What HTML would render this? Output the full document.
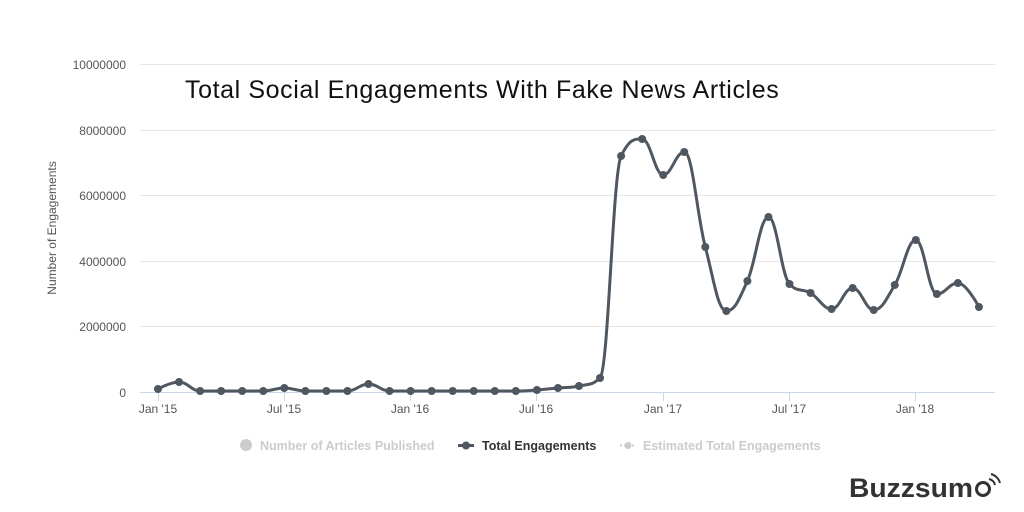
<!DOCTYPE html>
<html><head><meta charset="utf-8"><style>
body{margin:0;background:#fff;width:1024px;height:512px;overflow:hidden}
svg{display:block}
text{font-family:"Liberation Sans",sans-serif}
</style></head><body>
<svg id="s" width="1024" height="512" xmlns="http://www.w3.org/2000/svg">
<g stroke="#e6e6e6" stroke-width="1">
<line x1="140" x2="995" y1="64.5" y2="64.5"/>
<line x1="140" x2="995" y1="130.5" y2="130.5"/>
<line x1="140" x2="995" y1="195.5" y2="195.5"/>
<line x1="140" x2="995" y1="261.5" y2="261.5"/>
<line x1="140" x2="995" y1="326.5" y2="326.5"/>
</g>
<line x1="140" x2="995" y1="392.5" y2="392.5" stroke="#ccd6eb"/>
<g stroke="#ccd6eb"><line x1="158.5" x2="158.5" y1="392" y2="401"/><line x1="284.5" x2="284.5" y1="392" y2="401"/><line x1="410.5" x2="410.5" y1="392" y2="401"/><line x1="536.5" x2="536.5" y1="392" y2="401"/><line x1="663.5" x2="663.5" y1="392" y2="401"/><line x1="789.5" x2="789.5" y1="392" y2="401"/><line x1="915.5" x2="915.5" y1="392" y2="401"/></g>
<g font-size="12" fill="#555" text-anchor="end">
<text x="126" y="69">10000000</text><text x="126" y="135">8000000</text><text x="126" y="200">6000000</text><text x="126" y="266">4000000</text><text x="126" y="331">2000000</text><text x="126" y="397">0</text>
</g>
<g font-size="12" fill="#555" text-anchor="middle">
<text x="158" y="413">Jan '15</text><text x="284" y="413">Jul '15</text><text x="410" y="413">Jan '16</text><text x="536" y="413">Jul '16</text><text x="663" y="413">Jan '17</text><text x="789" y="413">Jul '17</text><text x="915" y="413">Jan '18</text>
</g>
<text transform="translate(56,228) rotate(-90)" font-size="12" fill="#555" text-anchor="middle">Number of Engagements</text>
<text x="185" y="98" font-size="25" letter-spacing="0.6" fill="#111">Total Social Engagements With Fake News Articles</text>
<path id="p" fill="none" stroke="#4f5760" stroke-width="3"/>
<g id="d" fill="#4f5760"></g>
<circle cx="246" cy="445" r="6" fill="#ccc"/>
<text x="260" y="450" font-size="12.5" font-weight="bold" fill="#ccc">Number of Articles Published</text>
<line x1="458" x2="474" y1="445.5" y2="445.5" stroke="#4f5760" stroke-width="3"/><circle cx="466" cy="445.5" r="4" fill="#4f5760"/>
<text x="482" y="450" font-size="12.5" font-weight="bold" fill="#333">Total Engagements</text>
<line x1="620" x2="636" y1="445.5" y2="445.5" stroke="#ccc" stroke-width="2" stroke-dasharray="2,2"/><circle cx="628" cy="445.5" r="3.5" fill="#ccc"/>
<text x="643" y="450" font-size="12.5" font-weight="bold" fill="#ccc">Estimated Total Engagements</text>
<text x="849" y="497" font-size="27" font-weight="bold" fill="#333" textLength="124" lengthAdjust="spacingAndGlyphs">Buzzsum</text>
<circle cx="983" cy="489" r="6.5" fill="none" stroke="#333" stroke-width="3"/>
<path d="M989 479 a8 8 0 0 1 6 6 M991 474 a13 13 0 0 1 9 9" fill="none" stroke="#333" stroke-width="2"/>
</svg>
<script>
var ys=[389,382,391,391,391,391,388,391,391,391,384,391,391,391,391,391,391,391,390,388,386,378,156,139,175,152,247,311,281,217,284,293,309,288,310,285,240,294,283,307];
var pts=ys.map(function(y,i){return [158+i*21.05,y]});
var n=pts.length,L=[],R=[],s=1.5;
for(var i=0;i<n;i++){
 var x=pts[i][0],y=pts[i][1];
 if(i==0||i==n-1){L[i]=[x,y];R[i]=[x,y];continue;}
 var px=pts[i-1][0],py=pts[i-1][1],nx=pts[i+1][0],ny=pts[i+1][1];
 var lx=(s*x+px)/(s+1),ly=(s*y+py)/(s+1),rx=(s*x+nx)/(s+1),ry=(s*y+ny)/(s+1);
 var c=((ry-ly)*(rx-x))/(rx-lx)+y-ry;ly+=c;ry+=c;
 if(ly>py&&ly>y){ly=Math.max(py,y);ry=2*y-ly;}else if(ly<py&&ly<y){ly=Math.min(py,y);ry=2*y-ly;}
 if(ry>ny&&ry>y){ry=Math.max(ny,y);ly=2*y-ry;}else if(ry<ny&&ry<y){ry=Math.min(ny,y);ly=2*y-ry;}
 L[i]=[lx,ly];R[i]=[rx,ry];
}
var d="M"+pts[0][0]+" "+pts[0][1];
for(var i=0;i<n-1;i++){
 d+=" C"+R[i][0].toFixed(1)+" "+R[i][1].toFixed(1)+" "+L[i+1][0].toFixed(1)+" "+L[i+1][1].toFixed(1)+" "+pts[i+1][0].toFixed(1)+" "+pts[i+1][1];
}
document.getElementById("p").setAttribute("d",d);
var h="";
pts.forEach(function(p){h+='<circle cx="'+p[0]+'" cy="'+p[1]+'" r="4"/>'});
document.getElementById("d").innerHTML=h;
</script>
</body></html>
